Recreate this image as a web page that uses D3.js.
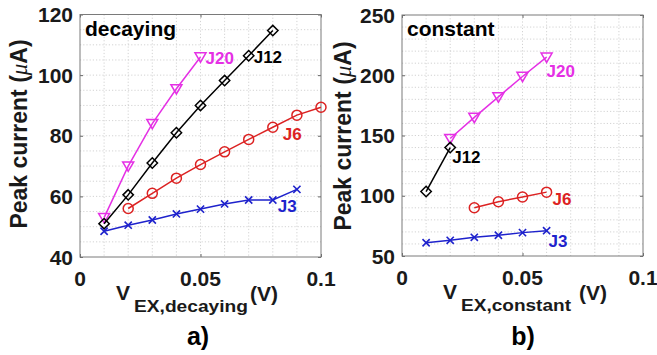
<!DOCTYPE html>
<html>
<head>
<meta charset="utf-8">
<script src="https://cdn.jsdelivr.net/npm/d3@7"></script>
<style>
  html, body { margin: 0; padding: 0; background: #fff; }
  svg { display: block; }
  text { font-family: "Liberation Sans", Arial, sans-serif; font-weight: bold; fill: #1a1a1a; }
</style>
</head>
<body>
<svg id="chart" width="657" height="355"></svg>
<script>
// Peak current versus excitation voltage, decaying (a) and constant (b) cases.

// x tick labels shared by both panels
const xTickValues = [0, 0.05, 0.1];
const xTickLabels = ["0", "0.05", "0.1"];

// panel a) decaying excitation
const decYTicks = [40, 60, 80, 100, 120];
const decX_J20 = [0.01, 0.02, 0.03, 0.04, 0.05];
const decJ20   = [53, 70, 84, 95.5, 106];
const decX_J12 = [0.01, 0.02, 0.03, 0.04, 0.05, 0.06, 0.07, 0.08];
const decJ12   = [51, 60.5, 71, 81, 90, 98.2, 106.4, 114.7];
const decX_J6  = [0.02, 0.03, 0.04, 0.05, 0.06, 0.07, 0.08, 0.09, 0.1];
const decJ6    = [56, 61, 66, 70.5, 74.7, 78.8, 82.8, 86.8, 89.4];
const decX_J3  = [0.01, 0.02, 0.03, 0.04, 0.05, 0.06, 0.07, 0.08, 0.09];
const decJ3    = [48.5, 50.5, 52.2, 54.2, 55.8, 57.5, 58.8, 58.8, 62.3];

// panel b) constant excitation
const conYTicks = [50, 100, 150, 200, 250];
const conX_J20 = [0.02, 0.03, 0.04, 0.05, 0.06];
const conJ20   = [147.5, 165, 182, 199, 215];
const conX_J12 = [0.01, 0.02];
const conJ12   = [103.5, 140];
const conX_J6  = [0.03, 0.04, 0.05, 0.06];
const conJ6    = [90, 95, 99, 103];
const conX_J3  = [0.01, 0.02, 0.03, 0.04, 0.05, 0.06];
const conJ3    = [61, 63, 65.5, 67.2, 69.4, 71];

const COLORS = { J20: "#e530e5", J12: "#000000", J6: "#dc2222", J3: "#1e22cc" };
const MARKERS = { J20: "tri", J12: "diamond", J6: "circle", J3: "cross" };

const svg = d3.select("#chart");

function zipSeries(xs, ys) { return xs.map((x, i) => [x, ys[i]]); }

function drawMarker(g, kind, px, py, color) {
  if (kind === "tri") {
    const s = 5.5;
    g.append("path")
      .attr("d", `M${px - s},${py - s * 0.75}L${px + s},${py - s * 0.75}L${px},${py + s * 0.95}Z`)
      .attr("fill", "none").attr("stroke", color).attr("stroke-width", 1.5);
  } else if (kind === "diamond") {
    const s = 5.2;
    g.append("path")
      .attr("d", `M${px},${py - s}L${px + s},${py}L${px},${py + s}L${px - s},${py}Z`)
      .attr("fill", "none").attr("stroke", color).attr("stroke-width", 1.5);
  } else if (kind === "circle") {
    g.append("circle").attr("cx", px).attr("cy", py).attr("r", 5)
      .attr("fill", "none").attr("stroke", color).attr("stroke-width", 1.5);
  } else {
    const s = 3.6;
    g.append("path")
      .attr("d", `M${px - s},${py - s}L${px + s},${py + s}M${px - s},${py + s}L${px + s},${py - s}`)
      .attr("fill", "none").attr("stroke", color).attr("stroke-width", 1.6);
  }
}

function panel(cfg) {
  const x = d3.scaleLinear().domain([0, 0.1]).range([cfg.left, cfg.right]);
  const y = d3.scaleLinear().domain(cfg.yDomain).range([cfg.bottom, cfg.top]);
  const g = svg.append("g");

  // dotted grid: every 0.01 in x, every cfg.yMinor in y
  const gx = d3.range(0, 0.1 + 1e-9, 0.01);
  const gy = d3.range(cfg.yDomain[0], cfg.yDomain[1] + 1e-9, cfg.yMinor);
  g.append("g").selectAll("line").data(gx.slice(1, -1)).join("line")
    .attr("x1", d => x(d)).attr("x2", d => x(d))
    .attr("y1", cfg.top).attr("y2", cfg.bottom)
    .attr("stroke", "#c8c8c8").attr("stroke-width", 0.8).attr("stroke-dasharray", "1.2,2");
  g.append("g").selectAll("line").data(gy.slice(1, -1)).join("line")
    .attr("y1", d => y(d)).attr("y2", d => y(d))
    .attr("x1", cfg.left).attr("x2", cfg.right)
    .attr("stroke", "#c8c8c8").attr("stroke-width", 0.8).attr("stroke-dasharray", "1.2,2");

  // axes with inward ticks on all sides
  const axStyle = sel => {
    sel.select(".domain").remove();
    sel.selectAll(".tick line").attr("stroke", "#666");
  };
  g.append("g").attr("transform", `translate(0,${cfg.bottom})`)
    .call(d3.axisBottom(x).tickValues(xTickValues).tickSize(-3).tickFormat(""))
    .call(axStyle);
  g.append("g").attr("transform", `translate(0,${cfg.top})`)
    .call(d3.axisTop(x).tickValues(xTickValues).tickSize(-3).tickFormat(""))
    .call(axStyle);
  g.append("g").attr("transform", `translate(${cfg.left},0)`)
    .call(d3.axisLeft(y).tickValues(cfg.yTicks).tickSize(-3).tickFormat(""))
    .call(axStyle);
  g.append("g").attr("transform", `translate(${cfg.right},0)`)
    .call(d3.axisRight(y).tickValues(cfg.yTicks).tickSize(-3).tickFormat(""))
    .call(axStyle);

  g.append("rect")
    .attr("x", cfg.left).attr("y", cfg.top)
    .attr("width", cfg.right - cfg.left).attr("height", cfg.bottom - cfg.top)
    .attr("fill", "none").attr("stroke", "#7a7a7a").attr("stroke-width", 1);

  // tick labels
  g.append("g").selectAll("text").data(xTickValues).join("text")
    .attr("x", d => x(d)).attr("y", cfg.bottom + 29)
    .attr("text-anchor", "middle").attr("font-size", 21)
    .text((d, i) => xTickLabels[i]);
  g.append("g").selectAll("text").data(cfg.yTicks).join("text")
    .attr("x", cfg.left - 7).attr("y", d => y(d) + 7.5)
    .attr("text-anchor", "end").attr("font-size", 21)
    .text(d => d);

  // series
  const line = d3.line().x(d => x(d[0])).y(d => y(d[1]));
  cfg.series.forEach(s => {
    const pts = zipSeries(s.xs, s.ys);
    g.append("path").datum(pts).attr("d", line)
      .attr("fill", "none").attr("stroke", COLORS[s.name]).attr("stroke-width", 1.5);
    pts.forEach(p => drawMarker(g, MARKERS[s.name], x(p[0]), y(p[1]), COLORS[s.name]));
    const a = pts[s.labelAt];
    g.append("text")
      .attr("x", x(a[0]) + s.dx).attr("y", y(a[1]) + s.dy)
      .attr("font-size", 17).style("fill", COLORS[s.name])
      .text(s.name);
  });

  // case title inside the box
  g.append("text").attr("x", cfg.left + 5).attr("y", cfg.top + 21)
    .attr("font-size", 21).style("fill", "#000").text(cfg.title);

  // y axis label
  const yl = g.append("text")
    .attr("transform", `translate(${cfg.yLabelX},${cfg.yLabelY}) rotate(-90)`)
    .attr("text-anchor", "middle").attr("font-size", 23);
  yl.append("tspan").text("Peak current (");
  yl.append("tspan").text("\u03BC").style("font-family", "'Liberation Serif', serif")
    .style("font-style", "italic").style("font-weight", "normal");
  yl.append("tspan").text("A)");

  // x axis label with subscript
  const xl = g.append("text").attr("x", cfg.xLabelX).attr("y", cfg.bottom + 43);
  xl.append("tspan").attr("font-size", 21).text("V");
  xl.append("tspan").attr("font-size", 17).attr("dy", 12).attr("dx", 4)
    .attr("textLength", cfg.subWidth).attr("lengthAdjust", "spacingAndGlyphs")
    .text(cfg.sub);
  xl.append("tspan").attr("font-size", 21).attr("dy", -11).attr("dx", cfg.unitGap).text("(V)");

  // panel tag
  g.append("text").attr("x", cfg.tagX).attr("y", 345)
    .attr("text-anchor", "middle").attr("font-size", 25).style("fill", "#000")
    .text(cfg.tag);
}

panel({
  left: 80, right: 321, top: 14.5, bottom: 257,
  yDomain: [40, 120], yTicks: decYTicks, yMinor: 5,
  title: "decaying", tag: "a)", tagX: 198,
  yLabelX: 27, yLabelY: 134,
  xLabelX: 116, sub: "EX,decaying", subWidth: 114, unitGap: 2,
  series: [
    { name: "J20", xs: decX_J20, ys: decJ20, labelAt: 4, dx: 5, dy: 7 },
    { name: "J12", xs: decX_J12, ys: decJ12, labelAt: 6, dx: 5, dy: 7 },
    { name: "J6",  xs: decX_J6,  ys: decJ6,  labelAt: 6, dx: 10, dy: 13 },
    { name: "J3",  xs: decX_J3,  ys: decJ3,  labelAt: 7, dx: 5, dy: 12 }
  ]
});

panel({
  left: 402, right: 643, top: 15, bottom: 256,
  yDomain: [50, 250], yTicks: conYTicks, yMinor: 10,
  title: "constant", tag: "b)", tagX: 523,
  yLabelX: 351, yLabelY: 136,
  xLabelX: 443, sub: "EX,constant", subWidth: 110, unitGap: 8,
  series: [
    { name: "J20", xs: conX_J20, ys: conJ20, labelAt: 4, dx: 0, dy: 20 },
    { name: "J12", xs: conX_J12, ys: conJ12, labelAt: 1, dx: 2, dy: 15 },
    { name: "J6",  xs: conX_J6,  ys: conJ6,  labelAt: 3, dx: 6, dy: 13 },
    { name: "J3",  xs: conX_J3,  ys: conJ3,  labelAt: 5, dx: 2, dy: 16 }
  ]
});
</script>
</body>
</html>
